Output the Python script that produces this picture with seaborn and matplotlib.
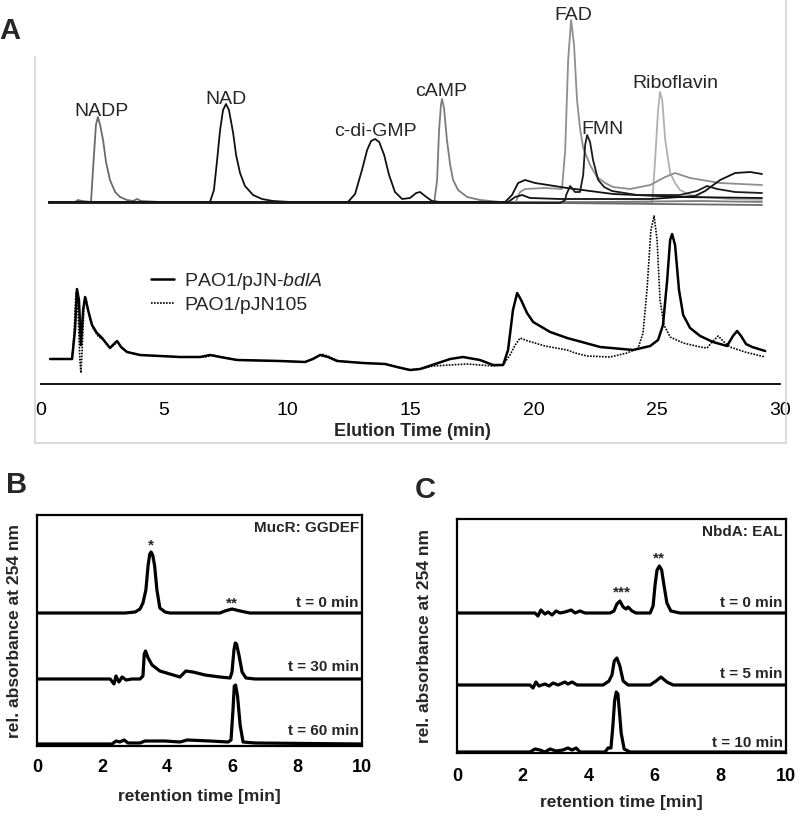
import matplotlib
matplotlib.use("Agg")
import matplotlib.pyplot as plt
from matplotlib.lines import Line2D
import seaborn as sns
import pandas as pd

sns.set_style("white")
plt.rcParams["font.family"] = ["Liberation Sans", "DejaVu Sans"]
plt.rcParams["mathtext.fontset"] = "custom"
plt.rcParams["mathtext.it"] = "Liberation Sans:italic"
plt.rcParams["mathtext.rm"] = "Liberation Sans"

# ---------------- Panel A data (elution time [min], relative absorbance) ----------
bdlA_t = [0.37, 1.26, 1.38, 1.46, 1.54, 1.62, 1.71, 1.79, 1.91, 2.07, 2.27, 2.48, 2.80, 2.96, 3.09,
          3.25, 3.49, 4.02, 5.64, 6.46, 6.86, 7.27, 7.96, 9.70, 10.72, 11.04, 11.33, 11.65, 12.02,
          13.07, 13.97, 14.45, 14.98, 15.39, 16.00, 16.61, 17.13, 17.82, 18.35, 18.76, 18.96, 19.16,
          19.33, 19.49, 19.73, 19.98, 20.67, 21.36, 22.70, 24.04, 24.73, 25.05, 25.25, 25.42, 25.54,
          25.62, 25.74, 25.90, 26.07, 26.35, 26.76, 27.28, 27.85, 28.09, 28.26, 28.42, 28.62, 28.87, 29.40]
bdlA_y = [25, 25, 54, 95, 84, 39, 74, 87, 74, 59, 51, 46, 36, 40, 43,
          37, 32, 29, 27, 27, 29, 27, 24, 23, 22, 25, 29, 27, 23,
          21, 20, 17, 14, 15, 20, 25, 27, 24, 19, 19, 34, 74,
          91, 84, 71, 62, 52, 46, 37, 34, 38, 44, 59, 104, 144,
          150, 139, 94, 69, 56, 48, 42, 38, 48, 53, 48, 40, 37, 33]

pJN105_t = [0.37, 1.26, 1.34, 1.42, 1.50, 1.58, 1.62, 1.67, 1.75, 1.83, 1.95, 2.11, 2.31, 2.52, 2.80,
            2.96, 3.09, 3.25, 3.49, 4.02, 5.64, 6.66, 6.98, 7.35, 7.96, 9.70, 10.72, 11.08, 11.41,
            11.73, 12.06, 13.07, 13.97, 14.45, 14.98, 15.39, 15.91, 17.30, 18.35, 18.76, 19.04, 19.25,
            19.45, 19.77, 20.46, 21.36, 21.68, 22.17, 23.10, 23.79, 24.24, 24.44, 24.60, 24.76, 24.89,
            25.01, 25.13, 25.29, 25.54, 26.07, 26.76, 27.04, 27.24, 27.49, 27.73, 27.97, 28.58, 29.40]
pJN105_y = [25, 25, 49, 92, 74, 24, 11, 34, 82, 86, 69, 56, 48, 44, 36,
            39, 42, 37, 32, 29, 27, 27, 29, 27, 24, 23, 22, 26, 30,
            27, 23, 21, 20, 17, 14, 15, 18, 20, 18, 19, 29, 39,
            46, 43, 38, 34, 31, 28, 27, 31, 36, 51, 94, 154, 168,
            144, 84, 59, 47, 41, 37, 36, 42, 48, 42, 37, 32, 27]

# standards
nadp_t = [0.32, 1.38, 1.50, 1.66, 2.03, 2.11, 2.23, 2.31, 2.40, 2.52, 2.64, 2.80, 3.01, 3.21, 3.49,
          3.74, 3.90, 4.06, 4.83, 18.64, 21.07, 29.27]
nadp_y = [182, 182, 184, 183, 182, 214, 259, 267, 259, 244, 222, 204, 192, 187, 184,
          183, 185, 183, 182, 182, 181, 179]

nad_t = [0.32, 6.86, 7.02, 7.15, 7.27, 7.39, 7.51, 7.63, 7.80, 7.92, 8.08, 8.28, 8.61, 8.97, 9.42,
         10.11, 18.84, 19.12, 19.37, 19.65, 20.06, 21.36, 23.22, 25.94, 29.27]
nad_y = [182, 182, 194, 224, 254, 274, 280, 274, 251, 229, 211, 198, 189, 185, 183,
         182, 182, 189, 201, 204, 201, 196, 190, 187, 186]

cdg_t = [0.32, 12.46, 12.75, 13.03, 13.24, 13.40, 13.56, 13.73, 13.93, 14.13, 14.37, 14.66, 14.98,
         15.23, 15.39, 15.59, 15.87, 16.20, 18.96, 19.25, 19.53, 19.85, 21.07, 24.73, 26.55, 26.96,
         27.57, 28.18, 28.79, 29.27]
cdg_y = [182, 182, 190, 214, 234, 243, 245, 242, 229, 209, 192, 185, 186,
         191, 192, 188, 183, 182, 182, 187, 189, 186, 185, 185, 188, 193,
         204, 211, 212, 210]

camp_t = [0.32, 15.96, 16.08, 16.16, 16.24, 16.28, 16.36, 16.48, 16.61, 16.73, 16.93, 17.30, 17.82,
          18.64, 22.70, 26.76, 29.27]
camp_y = [181, 181, 204, 254, 280, 285, 276, 244, 219, 204, 194, 187, 184,
          182, 182, 183, 182]

fad_t = [0.32, 19.25, 19.45, 19.65, 20.46, 21.15, 21.28, 21.40, 21.52, 21.64, 21.76, 21.88, 22.01,
         22.29, 22.57, 22.90, 23.22, 23.91, 24.73, 25.34, 25.74, 26.35, 27.57, 29.27]
fad_y = [181, 181, 192, 195, 196, 195, 234, 324, 364, 339, 284, 256, 236,
         219, 207, 201, 197, 195, 199, 207, 211, 206, 201, 199]

fmn_t = [0.32, 21.07, 21.28, 21.32, 21.48, 21.68, 21.88, 22.01, 22.09, 22.17, 22.29, 22.41, 22.62,
         22.86, 23.18, 24.20, 25.94, 26.63, 27.04, 27.45, 28.18, 29.27]
fmn_y = [181, 181, 184, 189, 198, 192, 192, 209, 239, 249, 242, 224, 204,
         197, 193, 189, 189, 193, 198, 195, 192, 191]

ribo_t = [0.32, 24.81, 24.93, 25.05, 25.13, 25.22, 25.34, 25.54, 25.74, 25.94, 26.35, 26.88, 27.97, 29.27]
ribo_y = [181, 181, 224, 274, 292, 284, 244, 211, 201, 194, 189, 187, 185, 184]

a_ticks = [0, 5, 10, 15, 20, 25, 30]

# ---------------- Panel B data (MucR: GGDEF) ----------------
b0_t = [0.0, 2.71, 3.02, 3.17, 3.26, 3.35, 3.42, 3.47, 3.51, 3.56, 3.62, 3.69, 3.78, 3.94, 4.09,
        5.63, 5.78, 6.00, 6.25, 6.55, 10.0]
b0_y = [133, 133, 134, 137, 143, 156, 181, 192, 194, 191, 180, 156, 138, 134, 133,
        133, 135, 137, 135, 133, 133]
b30_t = [0.0, 2.25, 2.37, 2.43, 2.52, 2.62, 2.74, 2.92, 3.17, 3.26, 3.30, 3.34, 3.42, 3.54, 3.78,
         4.09, 4.40, 4.49, 4.58, 4.80, 5.17, 5.63, 5.94, 6.00, 6.06, 6.10, 6.14, 6.22, 6.31, 6.43,
         6.71, 10.0]
b30_y = [67, 67, 62, 70, 64, 69, 66, 67, 67, 70, 92, 95, 88, 81, 75,
         72, 69, 72, 75, 74, 71, 69, 68, 74, 96, 103, 102, 90, 74, 68,
         67, 67]
b60_t = [0.0, 2.31, 2.43, 2.55, 2.68, 2.80, 3.17, 3.32, 3.94, 4.40, 4.62, 5.32, 5.88, 5.97, 6.03,
         6.07, 6.11, 6.17, 6.25, 6.34, 6.71, 10.0]
b60_y = [2, 2, 5, 4, 6, 3, 3, 5, 5, 4, 6, 5, 4, 6, 36,
         60, 61, 50, 21, 4, 3, 2]

# ---------------- Panel C data (NbdA: EAL) ----------------
c0_t = [0.0, 2.37, 2.46, 2.55, 2.67, 2.77, 2.89, 3.01, 3.13, 3.28, 3.47, 3.59, 3.74, 3.89, 4.65,
        4.77, 4.86, 4.95, 5.05, 5.14, 5.20, 5.32, 5.44, 5.87, 5.96, 6.02, 6.08, 6.15, 6.22, 6.29,
        6.38, 6.50, 6.78, 10.0]
c0_y = [140, 140, 137, 143, 139, 141, 138, 142, 140, 141, 143, 140, 142, 140, 140,
        142, 149, 152, 146, 144, 146, 142, 140, 140, 147, 168, 183, 187, 183, 168,
        150, 142, 140, 140]
c5_t = [0.0, 2.22, 2.31, 2.40, 2.49, 2.67, 2.80, 2.92, 3.07, 3.28, 3.37, 3.50, 3.65, 4.44, 4.62,
        4.71, 4.78, 4.86, 4.95, 5.05, 5.20, 5.87, 6.05, 6.20, 6.38, 6.57, 10.0]
c5_y = [68, 68, 65, 71, 67, 69, 67, 70, 68, 71, 69, 71, 68, 68, 72,
        78, 92, 95, 87, 72, 68, 68, 72, 76, 71, 68, 68]
c10_t = [0.0, 2.22, 2.37, 2.52, 2.67, 2.83, 3.01, 3.22, 3.37, 3.50, 3.62, 3.74, 4.50, 4.59, 4.68,
         4.74, 4.79, 4.84, 4.89, 4.94, 4.99, 5.08, 5.26, 10.0]
c10_y = [1, 1, 4, 3, 1, 4, 2, 3, 5, 3, 5, 1, 1, 5, 5,
         28, 52, 61, 59, 40, 20, 4, 1, 1]
bc_ticks = [0, 2, 4, 6, 8, 10]

# ---------------- figure ----------------
W, H = 800, 819
fig = plt.figure(figsize=(W / 100, H / 100), dpi=100)


def rect(l, t, r, b):
    return [l / W, 1 - b / H, (r - l) / W, (b - t) / H]


def trace(ax, t, y, **kw):
    df = pd.DataFrame({"t": t, "y": y})
    sns.lineplot(data=df, x="t", y="y", ax=ax, estimator=None, sort=False, **kw)
    ax.lines[-1].set_solid_joinstyle("round")
    ax.lines[-1].set_dash_joinstyle("round")


# gray frame of panel A
for xs, ys in [([35, 35], [57, 443]), ([35, 786], [443, 443]), ([786, 786], [0, 443])]:
    fig.add_artist(Line2D([x / W for x in xs], [1 - y / H for y in ys], color="#d4d4d4", lw=1.2))

axA = fig.add_axes(rect(41, 0, 780, 384))
axA.patch.set_alpha(0)
traces = [
    (ribo_t, ribo_y, "#b0b0b0"),
    (camp_t, camp_y, "#7c7c7c"),
    (nadp_t, nadp_y, "#6a6a6a"),
    (fad_t, fad_y, "#8e8e8e"),
    (nad_t, nad_y, "#111111"),
    (cdg_t, cdg_y, "#111111"),
    (fmn_t, fmn_y, "#1c1c1c"),
]
for t, y, c in traces:
    trace(axA, t, y, color=c, linewidth=1.3)
trace(axA, pJN105_t, pJN105_y, color="black", linewidth=1.2, linestyle=(0, (1, 0.8)))
trace(axA, bdlA_t, bdlA_y, color="black", linewidth=1.8)

axA.set_xlim(0, 30)
axA.set_ylim(0, 384)
for s in ["left", "right", "top"]:
    axA.spines[s].set_visible(False)
axA.spines["bottom"].set_color("black")
axA.spines["bottom"].set_linewidth(1.3)
axA.set_yticks([])
axA.set_xticks(a_ticks)
axA.set_xticklabels([str(v) for v in a_ticks])
axA.tick_params(axis="x", direction="out", length=5, width=1.3, labelsize=14, pad=8, colors="black")
axA.set_xlabel("Elution Time (min)", fontsize=13, fontweight="bold")
axA.xaxis.set_label_coords(0.503, -0.102)
axA.set_ylabel("")

labels = [("NADP", 2.44, 273), ("NAD", 7.51, 285), ("c-di-GMP", 13.56, 253), ("cAMP", 16.24, 293),
          ("FAD", 21.6, 368), ("FMN", 22.78, 255), ("Riboflavin", 25.74, 300)]
for txt, x, y in labels:
    axA.text(x, y, txt, fontsize=14, ha="center", va="center")

h = [Line2D([], [], color="black", lw=1.8), Line2D([], [], color="black", lw=1.2, ls=(0, (1, 0.8)))]
axA.legend(h, ["PAO1/pJN-$\\it{bdlA}$", "PAO1/pJN105"], loc="upper left",
           bbox_to_anchor=(151 / W, 1 - 271 / H), bbox_transform=fig.transFigure,
           frameon=False, fontsize=14, handlelength=1.2, handletextpad=0.5,
           labelspacing=0.2, borderpad=0, borderaxespad=0)

fig.text(10 / W, 1 - 31 / H, "A", fontsize=21, fontweight="bold", ha="center", va="center")
fig.text(17 / W, 1 - 485 / H, "B", fontsize=21, fontweight="bold", ha="center", va="center")
fig.text(425 / W, 1 - 490 / H, "C", fontsize=21, fontweight="bold", ha="center", va="center")


def panel(ax, data, ylim, title, tlabels, tpos, stars, pad, ylab_x, xlab_y):
    for t, y in data:
        trace(ax, t, y, color="black", linewidth=2.3)
    ax.set_xlim(0, 10)
    ax.set_ylim(0, ylim)
    for s in ax.spines.values():
        s.set_color("black")
        s.set_linewidth(1.6)
    ax.set_yticks([])
    ax.set_xticks(bc_ticks)
    ax.set_xticklabels([str(v) for v in bc_ticks])
    ax.tick_params(axis="x", direction="in", length=3, width=1, labelsize=13, pad=pad, colors="black")
    for lab in ax.get_xticklabels():
        lab.set_fontweight("bold")
    ax.set_xlabel("retention time [min]", fontsize=12.5, fontweight="bold")
    ax.set_ylabel("rel. absorbance at 254 nm", fontsize=12.5, fontweight="bold")
    ax.yaxis.set_label_coords(ylab_x, 0.5)
    ax.xaxis.set_label_coords(0.5, xlab_y)
    ax.text(9.9, ylim - 13, title, fontsize=11, fontweight="bold", ha="right", va="center")
    for txt, yy in zip(tlabels, tpos):
        ax.text(9.9, yy, txt, fontsize=11, fontweight="bold", ha="right", va="center")
    for txt, x, yy in stars:
        ax.text(x, yy, txt, fontsize=11, fontweight="bold", ha="center", va="center")


axB = fig.add_axes(rect(37, 515, 362, 746))
panel(axB, [(b0_t, b0_y), (b30_t, b30_y), (b60_t, b60_y)], 231, "MucR: GGDEF",
      ["t = 0 min", "t = 30 min", "t = 60 min"], [143, 79, 15],
      [("*", 3.5, 201), ("**", 6.0, 143)], 9, -0.046, -0.186)

axC = fig.add_axes(rect(457, 519, 786, 753))
panel(axC, [(c0_t, c0_y), (c5_t, c5_y), (c10_t, c10_y)], 234, "NbdA: EAL",
      ["t = 0 min", "t = 5 min", "t = 10 min"], [150, 79, 10],
      [("***", 5.0, 161), ("**", 6.15, 195)], 11, -0.076, -0.18)

fig.savefig("out.png", dpi=100)
